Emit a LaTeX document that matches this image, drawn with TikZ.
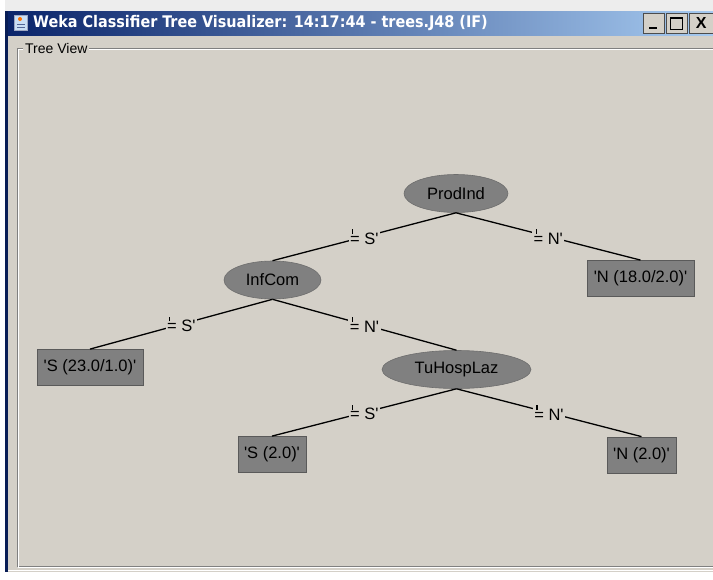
\documentclass[tikz,border=0pt]{standalone}
\usepackage{fontspec}
\setmainfont{Liberation Sans}[Ligatures=TeXOff]
\newfontfamily\titlefont{DejaVu Sans Condensed}
\usetikzlibrary{shapes.geometric}
\definecolor{panelbg}{HTML}{D4D0C8}
\definecolor{nodegray}{HTML}{808080}
\definecolor{navyA}{HTML}{0A246A}
\definecolor{skyB}{HTML}{A6CAF0}
\definecolor{etchdark}{HTML}{808080}
\tikzset{
  x=1pt,y=-1pt,
  splitnode/.style={ellipse,fill=nodegray,draw=nodegray!85!black,line width=0.6pt,minimum width=#1,minimum height=38pt,inner sep=0pt,font=\fontsize{16.5}{18}\selectfont},
  leafnode/.style={rectangle,fill=nodegray,draw=nodegray!70!black,line width=0.8pt,minimum height=36pt,minimum width=#1,inner sep=0pt,font=\fontsize{16.5}{18}\selectfont},
  edgelbl/.style={fill=panelbg,inner sep=1.5pt,font=\fontsize{16.5}{18}\selectfont},
  treeedge/.style={line width=1.3pt,black},
  winbtn/.style={rectangle,fill=panelbg,draw=black!70,line width=0.6pt,minimum width=21pt,minimum height=20pt,inner sep=0pt}
}
\newcommand{\sq}{\char"0027\relax}
\newcommand{\eqlbl}[1]{\makebox[0pt][l]{\kern0.12em\raisebox{0.62em}{\rule{0.08em}{0.3em}}}= #1\sq}
\begin{document}
\begin{tikzpicture}
\useasboundingbox (0,0) rectangle (713,579);
% outer window
\fill[white!93!black] (0,0) rectangle (713,579);
\fill[white] (0,0) rectangle (5,579);
\fill[navyA!80!black] (5,11) rectangle (8,572);
\fill[panelbg] (8,35) rectangle (713,572);
% title bar
\shade[left color=navyA,right color=skyB] (8,11) rectangle (713,35);
\node[inner sep=0pt,minimum width=13pt,minimum height=15pt,fill=skyB!60!white,draw=navyA!40] (icon) at (21,23) {};
\fill[orange!90!red] (20,19) circle (2pt);
\draw[navyA!70,line width=0.8pt] (17,24) -- (25,24) (17,27) -- (25,27);
\node[anchor=west,text=white,inner sep=0pt,font=\titlefont\bfseries\fontsize{16}{18}\selectfont] (title) at (33,23.5) {Weka Classifier Tree Visualizer: 14:17:44 - trees.J48 (IF)};
\node[winbtn] (bmin) at (653.5,23) {};
\draw[black,line width=2pt] (649,28) -- (657,28);
\node[winbtn] (bmax) at (676.5,23) {};
\draw[black,line width=1pt] (670.5,17) rectangle (682.5,29);
\draw[black,line width=2pt] (670.5,17.5) -- (682.5,17.5);
\node[winbtn,anchor=west,minimum width=24pt] (bclose) at (689,23) {};
\node[font=\bfseries\fontsize{16}{16}\selectfont] at (bclose.center) {X};
% etched border "Tree View"
\draw[etchdark,line width=1pt] (713,48) -- (17,48) -- (17,566) -- (713,566);
\draw[white,line width=1pt] (713,49) -- (18,49) -- (18,567) -- (713,567);
\node[fill=panelbg,inner sep=2pt,anchor=west,font=\fontsize{14}{16}\selectfont] (tv) at (23,48.5) {Tree View};
\draw[white,line width=1pt] (8,570.5) -- (713,570.5);
\fill[white] (0,572) rectangle (713,579);

% tree nodes
\node[splitnode=104pt] (prod) at (456,193.5) {ProdInd};
\node[splitnode=97pt] (inf) at (272.5,280) {InfCom};
\node[splitnode=149pt] (tu) at (456.5,369.5) {TuHospLaz};
\node[leafnode=107pt] (n18) at (640.5,278.5) {\sq N (18.0/2.0)\sq};
\node[leafnode=106pt] (s23) at (90,367.5) {\sq S (23.0/1.0)\sq};
\node[leafnode=68pt] (s2) at (272,454.5) {\sq S (2.0)\sq};
\node[leafnode=69pt] (n2) at (641.5,455) {\sq N (2.0)\sq};

% edges
\draw[treeedge] (prod.south) -- node[edgelbl]{\eqlbl{S}} (inf.north);
\draw[treeedge] (prod.south) -- node[edgelbl]{\eqlbl{N}} (n18.north);
\draw[treeedge] (inf.south) -- node[edgelbl]{\eqlbl{S}} (s23.north);
\draw[treeedge] (inf.south) -- node[edgelbl]{\eqlbl{N}} (tu.north);
\draw[treeedge] (tu.south) -- node[edgelbl]{\eqlbl{S}} (s2.north);
\draw[treeedge] (tu.south) -- node[edgelbl]{\eqlbl{N}} (n2.north);
\end{tikzpicture}
\end{document}
